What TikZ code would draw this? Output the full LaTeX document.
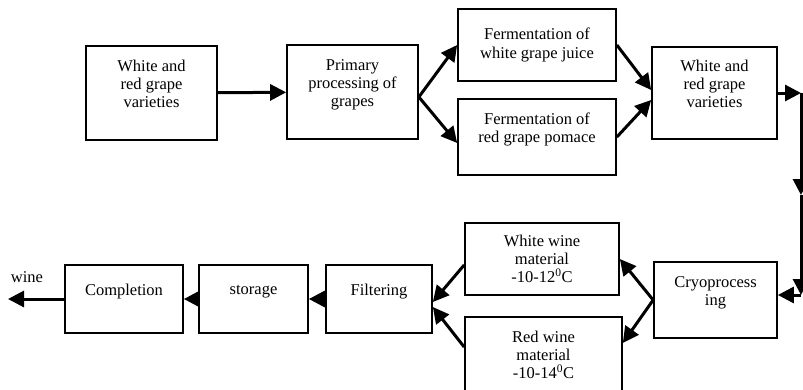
\documentclass[tikz,border=0pt]{standalone}
\usepackage{fontspec}
\setmainfont{Liberation Serif}
\usetikzlibrary{positioning,arrows.meta}

\begin{document}
\begin{tikzpicture}[x=1pt,y=-1pt]
    \tikzset{
        stage/.style={draw,line width=1.7pt,align=center,inner sep=2pt,
            font=\fontsize{16.5}{18.3}\selectfont},
        flow/.style={line width=3pt,-{Triangle[length=16pt,width=16pt]}},}
    \useasboundingbox (0,0) rectangle (803,389);
    % upper row
    \node[stage,minimum width=131pt,minimum height=94pt] (sortA) at (151.5,93) {White and\\red grape\\varieties\\ \mbox{}};
    \node[stage,minimum width=131pt,minimum height=94pt] (prim) at (352.5,92) {Primary\\processing of\\grapes\\ \mbox{}};
    \node[stage,minimum width=158pt,minimum height=72pt] (fermW) at (537,45) {Fermentation of\\white grape juice};
    \node[stage,minimum width=158pt,minimum height=76pt] (fermR) at (537,137) {Fermentation of\\red grape pomace\\ \mbox{}};
    \node[stage,minimum width=125pt,minimum height=92pt] (sortB) at (714.5,93) {White and\\red grape\\varieties\\ \mbox{}};
    % lower row
    \node[stage,minimum width=123pt,minimum height=76pt] (cryo) at (715.5,300) {Cryoprocess\\ing\\ \mbox{}};
    \node[stage,minimum width=154pt,minimum height=72pt] (wmat) at (542,259) {White wine\\material\\-10-12\textsuperscript{0}C};
    \node[stage,minimum width=157pt,minimum height=76pt] (rmat) at (543.5,355) {Red wine\\material\\-10-14\textsuperscript{0}C};
    \node[stage,minimum width=106pt,minimum height=68pt] (filt) at (379,299) {Filtering\\ \mbox{}};
    \node[stage,minimum width=109pt,minimum height=68pt] (stor) at (253.5,299) {storage\hspace{20pt}\\ \mbox{}};
    \node[stage,minimum width=118pt,minimum height=68pt] (comp) at (124,299) {Completion\\ \mbox{}};
    \node[font=\fontsize{16.5}{18.3}\selectfont,inner sep=0pt] (wine) at (27,277) {wine};
    % bends on the right side
    \coordinate (r1) at (801,93);
    \coordinate (r2) at (801,195);
    \coordinate (r3) at (801,295);
    \coordinate (out) at (8,299);
    % connectors
    \draw[flow] (sortA) -- (prim);
    \draw[flow] ([yshift=-5pt]prim.east) -- (fermW.west);
    \draw[flow] ([yshift=-5pt]prim.east) -- ([yshift=-6pt]fermR.west);
    \draw[flow] (fermW.east) -- ([yshift=3pt]sortB.west);
    \draw[flow] (fermR.east) -- ([yshift=-7pt]sortB.west);
    \draw[flow] (sortB.east) -- (r1);
    \draw[flow] (r1) -- (r2);
    \draw[flow] (r2) -- (r3);
    \draw[flow] (r3) -- ([yshift=5pt]cryo.east);
    \draw[flow] (cryo.west) -- (wmat.east);
    \draw[flow] (cryo.west) -- ([yshift=12pt]rmat.east);
    \draw[flow] ([yshift=-6pt]wmat.west) -- ([yshift=-3pt]filt.east);
    \draw[flow] ([yshift=8pt]rmat.west) -- ([yshift=-8pt]filt.east);
    \draw[flow] (filt) -- (stor);
    \draw[flow] (stor) -- (comp);
    \draw[flow] (comp) -- (out);
\end{tikzpicture}
\end{document}
